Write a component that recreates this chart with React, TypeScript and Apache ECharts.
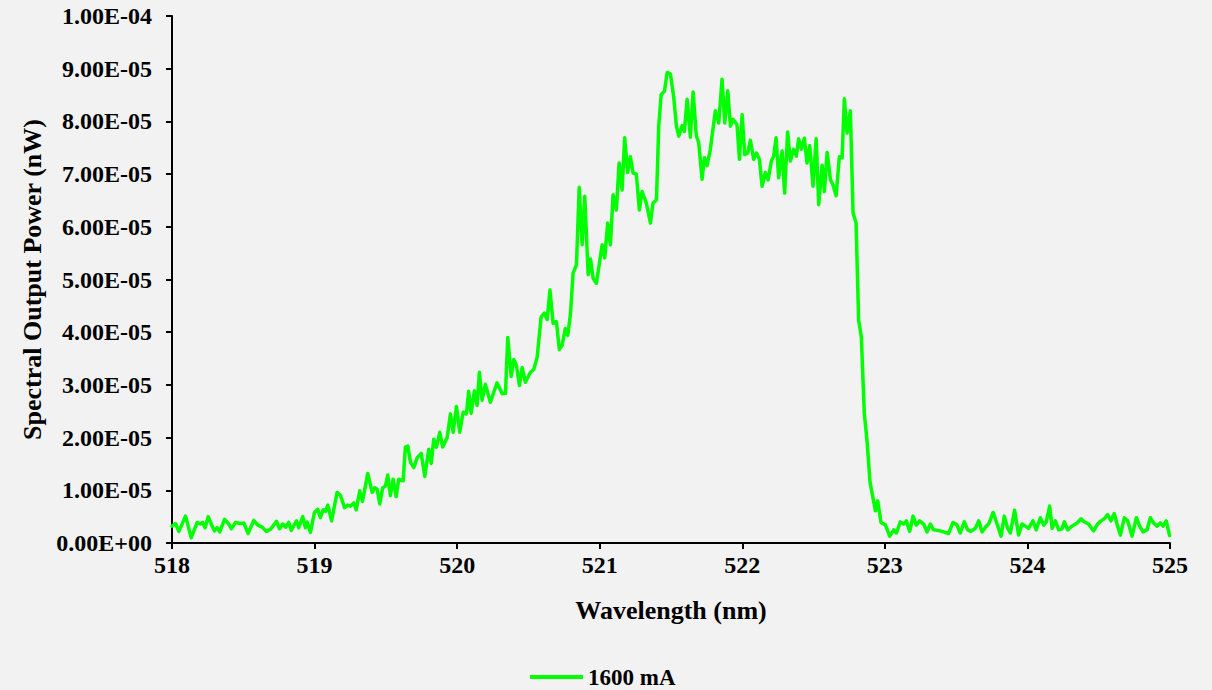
import React, { useEffect, useRef } from "react";
import * as echarts from "echarts";

// Wavelength samples (nm)
const wavelengthNm: number[] = [
  518.0, 518.025, 518.048, 518.095, 518.135, 518.177, 518.2, 518.215, 518.232, 518.254,
  518.282, 518.298, 518.317, 518.335, 518.368, 518.398, 518.417, 518.445, 518.48, 518.504,
  518.534, 518.574, 518.602, 518.633, 518.663, 518.691, 518.733, 518.754, 518.777, 518.796,
  518.819, 518.836, 518.873, 518.889, 518.917, 518.936, 518.948, 518.971, 518.999, 519.022,
  519.041, 519.06, 519.076, 519.093, 519.119, 519.158, 519.182, 519.21, 519.233, 519.252,
  519.275, 519.292, 519.317, 519.336, 519.373, 519.404, 519.422, 519.439, 519.457, 519.478,
  519.497, 519.513, 519.532, 519.551, 519.572, 519.59,
  519.621, 519.637, 519.654, 519.673, 519.696, 519.72, 519.748, 519.773, 519.801, 519.818,
  519.836, 519.855, 519.878, 519.899, 519.93, 519.953, 519.972, 519.995, 520.018, 520.042,
  520.065, 520.081, 520.098, 520.121, 520.14, 520.156, 520.175, 520.198, 520.233, 520.28,
  520.316, 520.339, 520.355, 520.379, 520.397, 520.416, 520.437, 520.456, 520.479, 520.514,
  520.537, 520.561, 520.589, 520.612, 520.631, 520.651,
  520.673, 520.696, 520.717, 520.736, 520.759, 520.776, 520.795, 520.813, 520.837, 520.856,
  520.877, 520.895, 520.919, 520.935, 520.954, 520.977, 521.017, 521.035, 521.056, 521.075,
  521.094, 521.117, 521.136, 521.157, 521.175, 521.196, 521.215, 521.234, 521.257, 521.278,
  521.297, 521.327, 521.356, 521.374, 521.398, 521.414, 521.431, 521.454, 521.473, 521.496,
  521.519, 521.538, 521.554, 521.578, 521.594, 521.613, 521.636, 521.655,
  521.678, 521.694, 521.718, 521.734, 521.753, 521.776, 521.811, 521.835, 521.858, 521.877,
  521.898, 521.917, 521.935, 521.963, 521.98, 521.999, 522.017, 522.038, 522.057, 522.08,
  522.099, 522.12, 522.139, 522.162, 522.181, 522.204, 522.22, 522.237, 522.255, 522.279,
  522.297, 522.318, 522.337, 522.36, 522.379, 522.395, 522.414, 522.435, 522.454, 522.473,
  522.496, 522.518, 522.536, 522.56, 522.576, 522.595, 522.618, 522.637, 522.658, 522.681,
  522.7, 522.716, 522.735, 522.758,
  522.777, 522.798, 522.816, 522.835, 522.856, 522.875, 522.896, 522.934, 522.95, 522.973,
  523.004, 523.034, 523.062, 523.081, 523.109, 523.132, 523.151, 523.174, 523.198, 523.221,
  523.244, 523.272, 523.296, 523.319, 523.342, 523.389, 523.447, 523.478, 523.506, 523.529,
  523.557, 523.581, 523.604, 523.635, 523.658, 523.682, 523.712, 523.728, 523.759, 523.787,
  523.815, 523.838, 523.861, 523.88, 523.91, 523.938, 523.962, 523.985, 524.008, 524.039,
  524.062, 524.09, 524.114, 524.132, 524.156, 524.173, 524.196, 524.219, 524.243, 524.259,
  524.282, 524.313, 524.348, 524.376, 524.399, 524.429, 524.464, 524.492, 524.516, 524.539,
  524.562, 524.586, 524.609, 524.628, 524.652, 524.68, 524.703, 524.734, 524.764, 524.787,
  524.811, 524.839, 524.862, 524.885, 524.909, 524.932, 524.951, 524.974, 524.997,
];

// Spectral output power, in units of 1E-06 nW
const powerE6: number[] = [
  3.2, 3.7, 2.2, 5.1, 1.0, 3.9, 3.6, 3.9, 2.9, 5.0,
  3.2, 2.3, 2.9, 2.1, 4.5, 3.6, 2.7, 3.9, 3.7, 3.8,
  1.8, 4.3, 3.4, 3.0, 2.2, 2.6, 4.1, 2.7, 3.6, 3.0,
  3.9, 2.4, 4.2, 2.9, 5.0, 2.9, 4.0, 2.0, 5.8, 6.4,
  4.8, 6.3, 6.0, 7.2, 4.2, 9.6, 9.0, 6.7, 7.2, 7.0,
  7.6, 6.3, 9.9, 7.9, 13.2, 9.6, 10.5, 10.2, 7.4, 10.5,
  10.8, 12.9, 9.0, 12.1, 8.8, 12.1,
  11.8, 18.2, 18.4, 15.3, 14.3, 16.2, 17.0, 12.6, 17.8, 15.1,
  19.7, 18.2, 21.0, 18.2, 20.0, 24.5, 21.0, 25.9, 21.0, 24.8,
  24.5, 28.8, 24.6, 28.9, 26.1, 32.4, 27.1, 30.1, 26.7, 30.4,
  28.3, 28.4, 39.0, 31.6, 34.8, 33.7, 29.9, 33.3, 30.5, 32.4,
  32.9, 35.2, 42.9, 43.6, 42.4, 48.0,
  41.7, 42.0, 36.7, 37.5, 40.7, 39.4, 43.5, 51.2, 52.8, 67.5,
  56.6, 65.8, 50.9, 53.9, 50.2, 49.3, 56.6, 54.1, 60.7, 56.6,
  66.1, 63.2, 72.1, 67.0, 76.9, 70.3, 73.3, 70.2, 70.0, 63.2,
  66.7, 64.5, 60.7, 64.5, 65.1, 79.1, 85.1, 85.7, 89.3, 89.0,
  84.6, 79.1, 77.2, 79.2, 78.1, 84.2, 77.0, 85.6,
  77.2, 76.0, 69.0, 73.1, 71.6, 74.7, 82.0, 79.7, 88.0, 79.7,
  85.8, 79.1, 80.4, 79.4, 72.8, 81.3, 73.7, 74.0, 76.4, 72.8,
  74.0, 72.8, 67.7, 70.3, 68.9, 72.5, 73.4, 76.9, 69.3, 74.4,
  66.4, 78.0, 72.5, 74.7, 73.4, 76.7, 74.7, 76.8, 72.1, 75.4,
  67.7, 76.7, 64.2, 71.7, 66.7, 74.1, 69.0, 67.9, 65.9, 73.3,
  73.1, 84.3, 77.8, 82.0,
  62.6, 60.7, 42.3, 39.1, 24.5, 19.4, 11.5, 6.1, 8.0, 3.9,
  3.4, 1.3, 2.5, 1.9, 4.0, 3.6, 4.2, 2.2, 5.1, 3.4,
  4.2, 3.6, 2.1, 3.6, 2.5, 2.3, 1.8, 3.9, 3.4, 1.9,
  4.0, 2.5, 2.2, 2.8, 4.2, 2.1, 3.2, 3.6, 5.8, 3.6,
  1.3, 5.1, 2.8, 1.9, 6.2, 1.5, 3.6, 3.2, 2.8, 4.2,
  2.5, 4.8, 3.4, 4.0, 7.0, 2.8, 4.2, 2.5, 2.7, 4.0,
  2.5, 3.2, 3.8, 4.6, 4.0, 3.6, 2.3, 3.6, 4.2, 4.6,
  5.4, 4.2, 5.6, 3.6, 1.5, 4.8, 4.2, 1.3, 4.8, 3.2,
  2.1, 2.5, 4.8, 3.8, 3.2, 3.8, 3.2, 4.2, 1.4,
];

const seriesName = "1600 mA";
const xTitle = "Wavelength (nm)";
const yTitle = "Spectral Output Power (nW)";

const FONT = "'Liberation Serif', 'Times New Roman', serif";

function formatSci(v: number): string {
  const val = Number(v.toPrecision(6));
  if (val === 0) return "0.00E+00";
  let e = Math.floor(Math.log10(Math.abs(val)));
  let m = val / Math.pow(10, e);
  if (Number(m.toFixed(2)) >= 10) {
    e += 1;
    m = val / Math.pow(10, e);
  }
  const sign = e < 0 ? "-" : "+";
  return m.toFixed(2) + "E" + sign + String(Math.abs(e)).padStart(2, "0");
}

export default function App() {
  const ref = useRef<HTMLDivElement>(null);

  useEffect(() => {
    if (!ref.current) return;
    const chart = echarts.init(ref.current, null, { renderer: "svg" });
    const data = wavelengthNm.map((w, i) => [w, powerE6[i] * 1e-6]);
    const tickStyle = {
      fontFamily: FONT,
      fontWeight: "bold" as const,
      fontSize: 24,
      color: "#000",
    };
    const titleStyle = { ...tickStyle, fontSize: 26 };
    chart.setOption({
      animation: false,
      backgroundColor: "#f2f2f2",
      grid: { left: 172, right: 42, top: 16, bottom: 147, containLabel: false },
      legend: {
        data: [seriesName],
        left: 525,
        top: 660,
        padding: 5,
        icon: "rect",
        itemWidth: 53,
        itemHeight: 4,
        itemGap: 5,
        textStyle: { ...tickStyle, fontSize: 23, lineHeight: 24 },
      },
      xAxis: {
        type: "value",
        min: 518,
        max: 525,
        interval: 1,
        name: xTitle,
        nameLocation: "middle",
        nameGap: 54,
        nameTextStyle: titleStyle,
        axisLine: { show: true, lineStyle: { color: "#000", width: 2 } },
        axisTick: { show: true, length: 6, lineStyle: { color: "#000", width: 2 } },
        axisLabel: { ...tickStyle, margin: 10 },
        splitLine: { show: false },
      },
      yAxis: {
        type: "value",
        min: 0,
        max: 1e-4,
        interval: 1e-5,
        name: yTitle,
        nameLocation: "middle",
        nameGap: 123,
        nameRotate: 90,
        nameTextStyle: titleStyle,
        axisLine: { show: true, lineStyle: { color: "#000", width: 2 } },
        axisTick: { show: true, length: 6, lineStyle: { color: "#000", width: 2 } },
        axisLabel: { ...tickStyle, margin: 20, formatter: (v: number) => formatSci(v) },
        splitLine: { show: false },
      },
      series: [
        {
          name: seriesName,
          type: "line",
          data,
          showSymbol: false,
          symbol: "none",
          lineStyle: { color: "#00ff00", width: 3.5, join: "round", cap: "round" },
          itemStyle: { color: "#00ff00" },
        },
      ],
    });
    return () => chart.dispose();
  }, []);

  return (
    <div
      ref={ref}
      style={{ position: "fixed", left: 0, top: 0, width: 1212, height: 690, background: "#f2f2f2" }}
    />
  );
}
